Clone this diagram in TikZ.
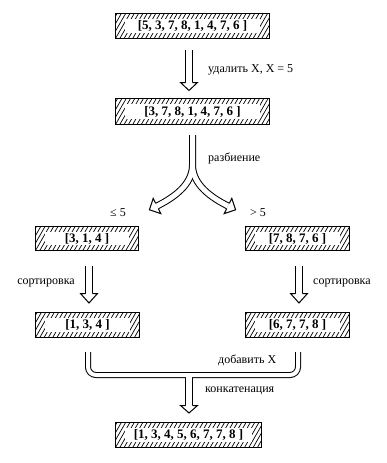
\documentclass[tikz,border=0pt]{standalone}
\usepackage{fontspec}
\setmainfont{Liberation Serif}
\usetikzlibrary{calc}
\tikzset{
  hatchbox/.style={draw, line width=1pt, inner sep=0pt, minimum height=25pt,
    font=\bfseries\fontsize{13}{15}\selectfont,
    path picture={
      \foreach \k in {-15,...,50}
        \draw[line width=0.7pt] ([xshift=\k*4.3pt]path picture bounding box.south west) -- ++(60:40pt);
      \fill[white] ([shift={(9.5pt,5.5pt)}]path picture bounding box.south west)
        rectangle ([shift={(-9.5pt,-5.5pt)}]path picture bounding box.north east);
    }},
  lbl/.style={font=\fontsize{12}{14}\selectfont, inner sep=0pt},
  bandout8/.style={line width=8pt, draw=black},
  bandin8/.style={line width=6pt, draw=white},
  bandout7/.style={line width=7pt, draw=black},
  bandin7/.style={line width=5pt, draw=white},
  bandout6/.style={line width=6pt, draw=black},
  bandin6/.style={line width=4pt, draw=white},
}
% #1 base centre, #2 tip, #3 half shaft (to the stroke centre)
\newcommand\arrowhd[3]{\filldraw[fill=white, line width=1pt, line join=miter]
  ($(#1)!#3!90:(#2)$) -- ($(#1)!8.5pt!90:(#2)$) -- (#2) -- ($(#1)!8.5pt!-90:(#2)$) -- ($(#1)!#3!-90:(#2)$);}
\begin{document}
\begin{tikzpicture}[x=1pt,y=-1pt]
\useasboundingbox (0,0) rectangle (387,463);
% boxes
\node[hatchbox, minimum width=154pt] (b1) at (192.5,26) {[5, 3, 7, 8, 1, 4, 7, 6 ]};
\node[hatchbox, minimum width=154pt, minimum height=26pt] (b2) at (192.5,111.5) {[3, 7, 8, 1, 4, 7, 6 ]};
\node[hatchbox, minimum width=103pt, minimum height=24pt] (b3) at (87,238.5) {[3, 1, 4 ]};
\node[hatchbox, minimum width=104pt, minimum height=24pt] (b4) at (297.5,238.5) {[7, 8, 7, 6 ]};
\node[hatchbox, minimum width=104pt] (b5) at (87.5,325) {[1, 3, 4 ]};
\node[hatchbox, minimum width=104pt] (b6) at (297.5,325) {[6, 7, 7, 8 ]};
\node[hatchbox, minimum width=146pt] (b7) at (188.5,435) {[1, 3, 4, 5, 6, 7, 7, 8 ]};
% coordinates
\coordinate (s1) at (189,50);   \coordinate (e1) at (189,82.5);   \coordinate (t1) at (189,90.5);
\coordinate (s2) at (192.5,135); \coordinate (f2) at (192.5,165);
\coordinate (eL) at (157,206);  \coordinate (tL) at ($(eL)+(-7.6,3.8)$);
\coordinate (eR) at (228,206);  \coordinate (tR) at ($(eR)+(7.6,3.8)$);
\coordinate (s3) at (89,266);   \coordinate (e3) at (89,293.5);   \coordinate (t3) at (89,303);
\coordinate (s4) at (299,266);  \coordinate (e4) at (299,293.5);  \coordinate (t4) at (299,303);
\coordinate (mL) at (88,352);   \coordinate (mR) at (298,352); \coordinate (mC) at (189,375);
\coordinate (e5) at (189,405.5);  \coordinate (t5) at (189,413);
% bands: outlines first, then white cores
\foreach \w in {out,in}{
  \draw[band\w8] (s1) -- (e1);
  \draw[band\w7] (s2) -- (f2) .. controls (192.5,185) and (173,198) .. (eL);
  \draw[band\w7] (f2) .. controls (192.5,185) and (212,198) .. (eR);
  \draw[band\w8] (s3) -- (e3);
  \draw[band\w8] (s4) -- (e4);
  \draw[band\w6, rounded corners=8pt] (mL) |- (298,375) -- (mR);
  \draw[band\w8] (mC) -- (e5);
}
\arrowhd{e1}{t1}{3.5pt}
\arrowhd{eL}{tL}{3pt}
\arrowhd{eR}{tR}{3pt}
\arrowhd{e3}{t3}{3.5pt}
\arrowhd{e4}{t4}{3.5pt}
\arrowhd{e5}{t5}{3.5pt}
% labels
\node[lbl, anchor=west] (l1) at (208,70) {удалить X,\ X = 5};
\node[lbl, anchor=west] (l2) at (208,158) {разбиение};
\node[lbl, anchor=west] (l3) at (110,213) {≤ 5};
\node[lbl, anchor=west] (l4) at (250,213) {> 5};
\node[lbl, anchor=east] (l5) at (75,283) {сортировка};
\node[lbl, anchor=west] (l6) at (313,283) {сортировка};
\node[lbl, anchor=west] (l7) at (218,360) {добавить X};
\node[lbl, anchor=west] (l8) at (205,391) {конкатенация};
\end{tikzpicture}
\end{document}
